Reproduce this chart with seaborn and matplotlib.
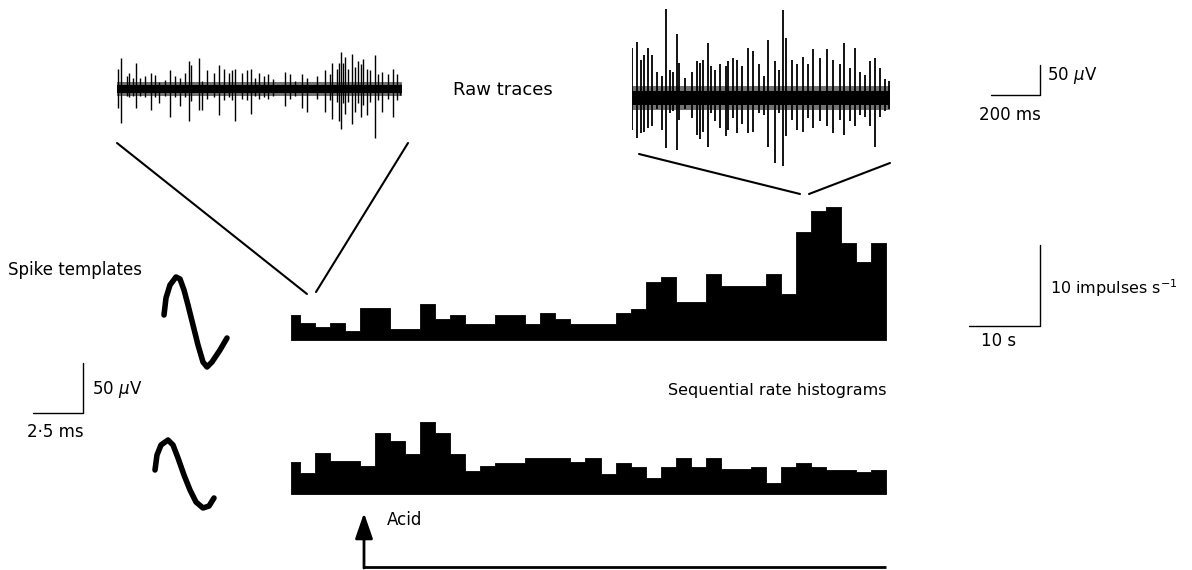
import matplotlib
matplotlib.use("Agg")
import numpy as np
import pandas as pd
import seaborn as sns
import matplotlib.pyplot as plt

# ---------------- data ----------------
# sequential rate histograms (impulses s^-1), 40 bins (first bin partial)
bin_edges = [-0.6] + list(range(0, 40))
rate_top = [3.0, 2.1, 1.55, 2.1, 1.1, 3.95, 3.95, 1.4, 1.4, 4.35,
            2.5, 3.0, 1.95, 1.95, 3.0, 3.0, 1.95, 3.25, 2.5, 1.95,
            1.95, 1.95, 3.25, 3.8, 7.1, 7.65, 4.65, 4.65, 8.05, 6.6,
            6.6, 6.6, 8.05, 5.6, 13.2, 15.7, 16.25, 11.85, 9.55, 11.85]
rate_bottom = [3.95, 2.6, 4.95, 4.0, 4.0, 3.45, 7.5, 6.5, 4.9, 8.8,
               7.4, 4.9, 2.85, 3.4, 3.8, 3.8, 4.35, 4.4, 4.4, 3.85,
               4.35, 2.5, 3.8, 3.3, 1.9, 3.3, 4.35, 3.3, 4.35, 3.0,
               3.0, 3.3, 1.3, 3.3, 3.8, 3.3, 2.9, 2.9, 2.65, 2.9]

# raw traces: noise band (uV) and main spike deflections (ms, uV)
left_dur = 1163
left_core, left_fuzz = 7, 12
left_t = [4, 18, 41, 50, 64, 78, 95, 116, 140, 156, 170, 197, 218, 238, 258, 279, 295, 303, 336, 347,
          367, 394, 415, 435, 456, 469, 480, 510, 530, 548, 564, 578, 598, 615, 638, 685, 706, 726, 753, 774,
          815, 849, 869, 879, 896, 906, 914, 923, 930, 944, 960, 971, 985, 996, 1005, 1019, 1032, 1053, 1066, 1080,
          1107, 1127, 1141, 1155]
left_up = [34, 51, 21, 26, 18, 44, 18, 21, 26, 23, 12, 15, 32, 21, 18, 26, 47, 40, 51, 14,
           32, 26, 40, 34, 26, 32, 34, 26, 32, 33, 18, 26, 21, 25, 17, 29, 25, 14, 25, 19,
           22, 31, 25, 43, 33, 44, 61, 44, 53, 33, 59, 36, 47, 42, 50, 33, 31, 57, 25, 28,
           25, 33, 25, 8]
left_down = [-32, -57, -12, -14, -12, -32, -12, -14, -35, -14, -24, -12, -46, -14, -29, -14, -54, -20, -35, -35,
             -16, -14, -43, -18, -14, -18, -54, -16, -18, -41, -12, -16, -14, -16, -12, -28, -16, -12, -31, -39,
             -16, -39, -18, -50, -22, -53, -67, -24, -42, -22, -58, -39, -24, -47, -26, -44, -22, -82, -18, -39,
             -16, -47, -18, -10]

right_dur = 1053
right_core, right_fuzz = 11, 20
right_t = [2, 19, 35, 49, 67, 80, 101, 121, 139, 155, 169, 185, 193, 216, 243, 267, 277, 291, 311, 321,
           339, 359, 384, 393, 413, 427, 447, 475, 495, 520, 539, 556, 583, 601, 617, 627, 651, 672, 696, 719,
           740, 767, 794, 821, 849, 865, 889, 910, 930, 951, 971, 991, 1012, 1032, 1050]
right_up = [83, 94, 64, 72, 83, 72, 44, 36, 148, 47, 44, 106, 58, 33, 44, 61, 58, 64, 92, 53,
            47, 56, 53, 61, 67, 64, 53, 83, 78, 56, 36, 97, 61, 47, 147, 100, 64, 56, 69, 56,
            81, 67, 81, 64, 56, 92, 50, 83, 44, 39, 61, 67, 50, 31, 28]
right_down = [-53, -67, -58, -56, -50, -47, -19, -53, -83, -25, -22, -86, -36, -19, -33, -61, -69, -56, -81, -25,
              -39, -50, -64, -53, -33, -58, -44, -58, -56, -25, -28, -81, -108, -25, -114, -64, -36, -53, -56, -33,
              -50, -39, -47, -58, -36, -61, -39, -47, -28, -31, -47, -81, -31, -22, -19]

# spike templates (ms, uV)
tmpl1_t = [0, 0.1, 0.3, 0.6, 0.8, 1.0, 1.2, 1.45, 1.7, 1.95, 2.15, 2.4, 2.8, 3.15]
tmpl1_v = [0, 17, 30, 38, 36, 25, 10, -10, -30, -47, -52, -47, -35, -23]
tmpl2_t = [0, 0.1, 0.3, 0.65, 0.9, 1.15, 1.45, 1.75, 2.05, 2.4, 2.7, 2.95]
tmpl2_v = [0, 15, 25, 30, 25, 12, -5, -20, -32, -38, -36, -28]

# ---------------- figure ----------------
sns.set_theme(style="white")
plt.rcParams["font.family"] = ["DejaVu Sans"]
plt.rcParams["mathtext.fontset"] = "dejavusans"
plt.rcParams["text.color"] = "black"
FS = 12

W, H = 1192, 570
fig = plt.figure(figsize=(W / 100, H / 100), dpi=100)
fig.patch.set_facecolor("white")


def px_axes(x0, y0, x1, y1):
    ax = fig.add_axes([x0 / W, 1 - y1 / H, (x1 - x0) / W, (y1 - y0) / H])
    ax.set_axis_off()
    ax.patch.set_alpha(0)
    return ax


edges = [float(e) for e in bin_edges]
centers = [(a + b) / 2 for a, b in zip(edges[:-1], edges[1:])]


def draw_hist(ax, rates, ymax):
    df = pd.DataFrame({"t": centers, "rate": rates})
    sns.histplot(data=df, x="t", weights="rate", bins=edges, ax=ax,
                 element="step", fill=True, color="black", alpha=1,
                 linewidth=0.6, legend=False)
    ax.set_xlim(edges[0], edges[-1])
    ax.set_ylim(0, ymax)
    ax.set_axis_off()


ax_top = px_axes(291, 200, 886, 340)
draw_hist(ax_top, rate_top, 140 / 8.2)
ax_bot = px_axes(291, 410, 886, 494)
draw_hist(ax_bot, rate_bottom, 84 / 8.2)


def draw_trace(ax, dur, core, fuzz, t, up, down, lw):
    ax.fill_between([0, dur], [-fuzz, -fuzz], [fuzz, fuzz], color="black", alpha=0.55, lw=0)
    ax.fill_between([0, dur], [-core, -core], [core, core], color="black", lw=0)
    ax.vlines(t, down, up, color="black", lw=lw)
    ax.set_xlim(0, dur)


ax_l = px_axes(117, 30, 402, 150)
draw_trace(ax_l, left_dur, left_core, left_fuzz, left_t, left_up, left_down, 1.0)
ax_l.set_ylim(-101.7, 98.3)

ax_r = px_axes(632, 0, 890, 180)
draw_trace(ax_r, right_dur, right_core, right_fuzz, right_t, right_up, right_down, 1.3)
ax_r.set_ylim(-136.7, 163.3)

ax_t1 = px_axes(140, 260, 240, 380)
sns.lineplot(x=tmpl1_t, y=tmpl1_v, ax=ax_t1, color="black", lw=4, sort=False)
ax_t1.set_xlim(-1.2, 3.8)
ax_t1.set_ylim(-65, 55)
ax_t1.set_axis_off()

ax_t2 = px_axes(135, 425, 235, 525)
sns.lineplot(x=tmpl2_t, y=tmpl2_v, ax=ax_t2, color="black", lw=4, sort=False)
ax_t2.set_xlim(-1.0, 4.0)
ax_t2.set_ylim(-55, 45)
ax_t2.set_axis_off()

# ---------------- annotations (pixel overlay) ----------------
ov = px_axes(0, 0, W, H)
ov.set_xlim(0, W)
ov.set_ylim(H, 0)

lw_link = 1.5
ov.plot([117, 307], [143, 294], color="black", lw=lw_link)
ov.plot([408, 316], [143, 292], color="black", lw=lw_link)
ov.plot([639, 800], [154, 194], color="black", lw=lw_link)
ov.plot([809, 890], [194, 163], color="black", lw=lw_link)

ov.text(503, 90, "Raw traces", ha="center", va="center", fontsize=13)

ov.plot([991, 1040, 1040], [95, 95, 65], color="black", lw=1.0)
ov.text(1047, 75, "50 $\\mu$V", ha="left", va="center", fontsize=FS)
ov.text(979, 115, "200 ms", ha="left", va="center", fontsize=FS)

ov.plot([969, 1040, 1040], [326, 326, 245], color="black", lw=1.0)
ov.text(1050, 288, "10 impulses s$^{-1}$", ha="left", va="center", fontsize=FS - 0.5)
ov.text(981, 341, "10 s", ha="left", va="center", fontsize=FS)

ov.text(8, 270, "Spike templates", ha="left", va="center", fontsize=FS)
ov.plot([33, 83, 83], [413, 413, 363], color="black", lw=1.0)
ov.text(92, 390, "50 $\\mu$V", ha="left", va="center", fontsize=FS)
ov.text(27, 432, "2\u00b75 ms", ha="left", va="center", fontsize=FS)

ov.text(887, 390, "Sequential rate histograms", ha="right", va="center", fontsize=FS - 0.5)

ov.plot([364, 886], [567, 567], color="black", lw=2.0, solid_capstyle="butt")
ov.annotate("", xy=(364, 513), xytext=(364, 568),
            arrowprops=dict(arrowstyle="-|>,head_length=1.3,head_width=0.45",
                            lw=2.0, color="black", shrinkA=0, shrinkB=0))
ov.text(387, 520, "Acid", ha="left", va="center", fontsize=FS)

fig.savefig("out.png", dpi=100, facecolor="white")
